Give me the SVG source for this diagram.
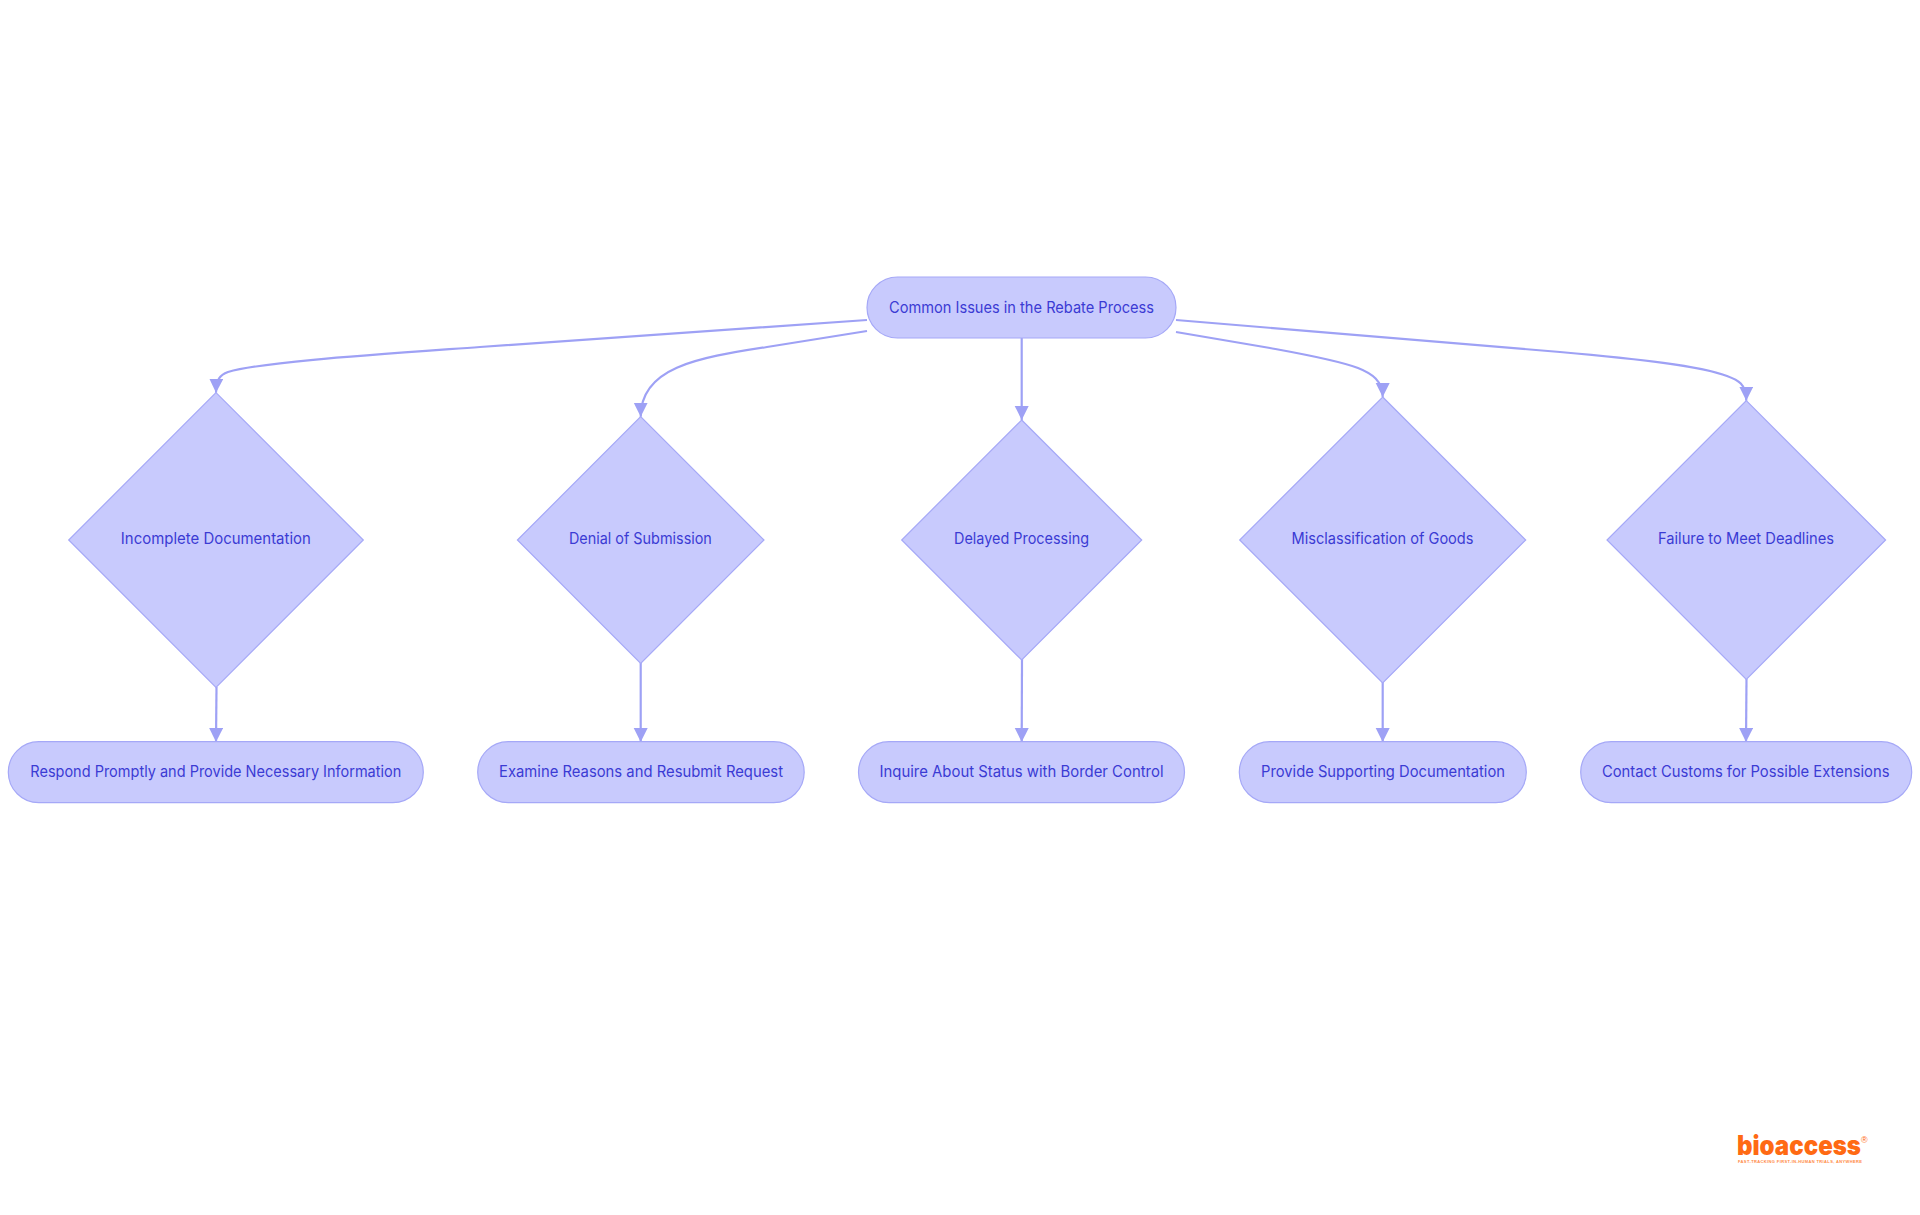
<svg xmlns="http://www.w3.org/2000/svg" width="1920" height="1215" viewBox="0 0 1920 1215">
<style>
.n{fill:#c8cafd;stroke:#a5a8f7;stroke-width:1.2}
.t{font-family:Inter,"Noto Sans","Liberation Sans",sans-serif;font-size:15.6px;fill:#3b3bd4;text-anchor:middle}
.e{fill:none;stroke:#9ea1f5;stroke-width:2.2;marker-end:url(#a)}
</style>
<defs><marker id="a" markerUnits="userSpaceOnUse" markerWidth="15" markerHeight="15" refX="14" refY="7" orient="auto"><path d="M0,0L14,7L0,14Z" fill="#9ea1f5"/></marker></defs>
<rect width="1920" height="1215" fill="#fff"/>
<g id="connectors">
<path class="e" d="M867,320 L480,347 C370,355 262,362 228,372 C220,375 216.3,379 216,392.7"/>
<path class="e" d="M867,331 L767,347 C695,358 640.7,368 640.7,416.7"/>
<path class="e" d="M1021.7,338 L1021.7,420"/>
<path class="e" d="M1176,332 L1270,348 C1300,353.5 1337,360 1358,368 C1372,373.5 1382.7,381 1382.7,397"/>
<path class="e" d="M1176,320 L1560,352 C1640,359 1700,366 1727,376 C1738,380 1746.3,384 1746.3,400.7"/>
<path class="e" d="M216.5,687 L216,742"/>
<path class="e" d="M640.7,663 L640.7,742"/>
<path class="e" d="M1022,659 L1021.7,742"/>
<path class="e" d="M1382.7,682 L1382.7,742"/>
<path class="e" d="M1746.5,679 L1746,742"/>
</g>
<g id="root"><rect class="n" x="867" y="277" width="309" height="61" rx="30.5"/><text class="t" x="1021.5" y="312.5" textLength="265" lengthAdjust="spacingAndGlyphs">Common Issues in the Rebate Process</text></g>
<g id="d1"><polygon class="n" points="216,392.7 363.3,540 216,687.3 68.7,540"/><text class="t" x="215.8" y="543.7" textLength="190" lengthAdjust="spacingAndGlyphs">Incomplete Documentation</text></g>
<g id="d2"><polygon class="n" points="640.7,416.7 764,540 640.7,663.3 517.4,540"/><text class="t" x="640.4" y="543.7" textLength="143" lengthAdjust="spacingAndGlyphs">Denial of Submission</text></g>
<g id="d3"><polygon class="n" points="1021.7,420 1141.7,540 1021.7,660 901.7,540"/><text class="t" x="1021.5" y="543.7" textLength="135" lengthAdjust="spacingAndGlyphs">Delayed Processing</text></g>
<g id="d4"><polygon class="n" points="1382.7,397 1525.7,540 1382.7,683 1239.7,540"/><text class="t" x="1382.5" y="543.7" textLength="182" lengthAdjust="spacingAndGlyphs">Misclassification of Goods</text></g>
<g id="d5"><polygon class="n" points="1746.3,400.7 1885.6,540 1746.3,679.3 1607,540"/><text class="t" x="1746" y="543.7" textLength="176" lengthAdjust="spacingAndGlyphs">Failure to Meet Deadlines</text></g>
<g id="l1"><rect class="n" x="8.3" y="741.7" width="415" height="61" rx="30.5"/><text class="t" x="215.8" y="777" textLength="371" lengthAdjust="spacingAndGlyphs">Respond Promptly and Provide Necessary Information</text></g>
<g id="l2"><rect class="n" x="477.7" y="741.7" width="326.5" height="61" rx="30.5"/><text class="t" x="641" y="777" textLength="284" lengthAdjust="spacingAndGlyphs">Examine Reasons and Resubmit Request</text></g>
<g id="l3"><rect class="n" x="858.5" y="741.7" width="326" height="61" rx="30.5"/><text class="t" x="1021.5" y="777" textLength="284" lengthAdjust="spacingAndGlyphs">Inquire About Status with Border Control</text></g>
<g id="l4"><rect class="n" x="1239.3" y="741.7" width="287" height="61" rx="30.5"/><text class="t" x="1383" y="777" textLength="244" lengthAdjust="spacingAndGlyphs">Provide Supporting Documentation</text></g>
<g id="l5"><rect class="n" x="1580.7" y="741.7" width="331" height="61" rx="30.5"/><text class="t" x="1745.7" y="777" textLength="287.5" lengthAdjust="spacingAndGlyphs">Contact Customs for Possible Extensions</text></g>
<g id="logo">
<text x="1737" y="1155" font-family="Inter,'Liberation Sans',sans-serif" font-weight="900" font-size="27" fill="#ff6a13" textLength="124" lengthAdjust="spacingAndGlyphs">bioaccess</text>
<text x="1861" y="1143" font-family="'Liberation Sans',sans-serif" font-size="9" fill="#ff6a13">®</text>
<text x="1738" y="1163" font-family="'Liberation Sans',sans-serif" font-weight="700" font-size="4" fill="#ff8a45" textLength="124">FAST-TRACKING FIRST-IN-HUMAN TRIALS, ANYWHERE</text>
</g>
</svg>
